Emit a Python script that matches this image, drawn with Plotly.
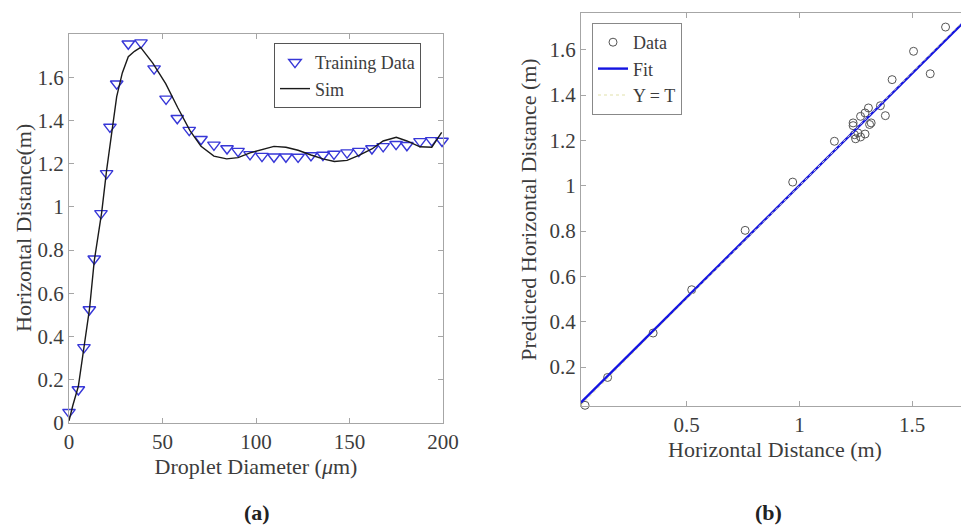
import numpy as np
import plotly.graph_objects as go

# ---------------- data: panel (a) ----------------
train_x = [0, 5, 8, 10.9, 13.5, 17.1, 20.1, 21.9, 25.5, 31.7, 38.5, 45.5, 51.9, 57.9, 64.3,
           70.6, 77.5, 84.5, 90.4, 96.8, 103.2, 109.6, 116, 122.5, 129.4, 135.8, 141.7,
           148.7, 155, 162, 168, 174.9, 180.7, 187.7, 194, 199.5]
train_y = [0.05, 0.155, 0.35, 0.525, 0.76, 0.97, 1.155, 1.37, 1.57, 1.755, 1.76, 1.64, 1.50,
           1.41, 1.355, 1.313, 1.287, 1.27, 1.258, 1.243, 1.235, 1.232, 1.232, 1.231, 1.238,
           1.24, 1.245, 1.251, 1.258, 1.27, 1.28, 1.29, 1.285, 1.303, 1.308, 1.305]

sim_x = [0, 2, 5, 8, 11, 13.5, 17.5, 20.1, 23.7, 25.5, 28.5, 31.7, 35, 38.3, 44.8, 51.7, 58.1,
         64.7, 70.6, 77.5, 84.3, 90.4, 96.8, 103.9, 109.6, 116, 122.5, 129.4, 135.8, 141.9,
         148.7, 155, 162, 168, 175, 180.7, 187.7, 194, 199.3]
sim_y = [0.01, 0.08, 0.17, 0.35, 0.53, 0.75, 0.976, 1.169, 1.40, 1.51, 1.62, 1.695, 1.72, 1.738,
         1.665, 1.57, 1.46, 1.353, 1.28, 1.235, 1.222, 1.228, 1.25, 1.268, 1.28, 1.276, 1.262,
         1.24, 1.222, 1.21, 1.215, 1.238, 1.268, 1.305, 1.322, 1.305, 1.278, 1.276, 1.345]

a_xticks = [0, 50, 100, 150, 200]
a_yticks = [0, 0.2, 0.4, 0.6, 0.8, 1, 1.2, 1.4, 1.6]
a_ytext = ["0", "0.2", "0.4", "0.6", "0.8", "1", "1.2", "1.4", "1.6"]

# ---------------- data: panel (b) ----------------
data_t = [0.049, 0.149, 0.351, 0.522, 0.759, 0.970, 1.155, 1.238, 1.238, 1.244, 1.249, 1.259,
          1.271, 1.271, 1.291, 1.291, 1.306, 1.311, 1.318, 1.359, 1.381, 1.411, 1.506, 1.58,
          1.648, 1.745]
data_y = [0.031, 0.154, 0.35, 0.541, 0.803, 1.016, 1.196, 1.277, 1.265, 1.225, 1.207, 1.233,
          1.215, 1.306, 1.321, 1.228, 1.343, 1.27, 1.277, 1.353, 1.309, 1.468, 1.593, 1.494,
          1.70, 1.69]

b_xrange = [0.031, 1.752]
b_yrange = [0.028, 1.762]
b_xticks = [0.5, 1, 1.5]
b_xtext = ["0.5", "1", "1.5"]
b_yticks = [0.2, 0.4, 0.6, 0.8, 1, 1.2, 1.4, 1.6]
b_ytext = ["0.2", "0.4", "0.6", "0.8", "1", "1.2", "1.4", "1.6"]

slope, intercept = np.polyfit(data_t, data_y, 1)
line_t = np.array(b_xrange)
fit_y = slope * line_t + intercept

# ---------------- figure ----------------
W, H = 969, 525
OFF = 8  # page body margin of the browser
FONT = "Liberation Serif, Times New Roman, serif"
TXT = "#3c3c3c"
AX = "#a6a6a6"

def px(x):
    return (x - OFF) / W

def py(y):
    return 1 - (y - OFF) / H

fig = go.Figure()

fig.add_trace(go.Scatter(
    x=train_x, y=train_y, mode="markers", name="Training Data",
    marker=dict(symbol="triangle-down-open", size=11, color="rgb(55,55,215)",
                line=dict(width=1.4, color="rgb(55,55,215)")),
    xaxis="x", yaxis="y", legend="legend", cliponaxis=False))
fig.add_trace(go.Scatter(
    x=sim_x, y=sim_y, mode="lines", name="Sim",
    line=dict(color="#1a1a1a", width=1.4),
    xaxis="x", yaxis="y", legend="legend"))

fig.add_trace(go.Scatter(
    x=data_t, y=data_y, mode="markers", name="Data",
    marker=dict(symbol="circle-open", size=8, color="#555555", line=dict(width=1)),
    xaxis="x2", yaxis="y2", legend="legend2", cliponaxis=False))
fig.add_trace(go.Scatter(
    x=line_t, y=fit_y, mode="lines", name="Fit",
    line=dict(color="rgb(20,20,225)", width=2.4),
    xaxis="x2", yaxis="y2", legend="legend2"))
fig.add_trace(go.Scatter(
    x=line_t, y=line_t, mode="lines", name="Y = T",
    line=dict(color="rgb(225,225,170)", width=1, dash="dot"),
    xaxis="x2", yaxis="y2", legend="legend2"))

axis_common = dict(showgrid=False, zeroline=False, showline=True, linecolor=AX, linewidth=1,
                   mirror="ticks", ticks="inside", ticklen=5, tickcolor=AX, tickwidth=1,
                   automargin=False,
                   tickfont=dict(family=FONT, size=21, color=TXT))

fig.update_layout(
    width=W, height=H, margin=dict(l=0, r=0, t=0, b=0, autoexpand=False),
    paper_bgcolor="white", plot_bgcolor="white",
    font=dict(family=FONT, color=TXT),
    xaxis=dict(domain=[px(69), px(443)], range=[0, 200], tickvals=a_xticks, anchor="y",
               title=dict(text="Droplet Diameter (<i>μ</i>m)", font=dict(size=22, family=FONT, color=TXT), standoff=4),
               **axis_common),
    yaxis=dict(domain=[py(423), py(34)], range=[0, 1.8], tickvals=a_yticks, ticktext=a_ytext,
               anchor="x", **axis_common),
    xaxis2=dict(domain=[px(581), px(969)], range=b_xrange, tickvals=b_xticks, ticktext=b_xtext,
                anchor="y2",
                title=dict(text="Horizontal Distance (m)", font=dict(size=22, family=FONT, color=TXT), standoff=4),
                **axis_common),
    yaxis2=dict(domain=[py(406), py(13)], range=b_yrange, tickvals=b_yticks, ticktext=b_ytext,
                anchor="x2",
                title=dict(text="Predicted Horizontal Distance (m)", font=dict(size=22, family=FONT, color=TXT), standoff=6),
                **axis_common),
    legend=dict(x=px(274), y=py(43), xanchor="left", yanchor="top", bgcolor="white",
                bordercolor="#555555", borderwidth=1, tracegroupgap=0,
                font=dict(family=FONT, size=18, color=TXT)),
    legend2=dict(x=px(592), y=py(23), xanchor="left", yanchor="top", bgcolor="white",
                 bordercolor="#888888", borderwidth=1, tracegroupgap=0,
                 font=dict(family=FONT, size=18, color=TXT)),
    showlegend=True,
)

# y-axis title of panel (a), placed precisely
fig.add_annotation(text="Horizontal Distance(m)", textangle=-90, x=px(23), y=py(228),
                   xanchor="center", yanchor="middle",
                   xref="paper", yref="paper", showarrow=False,
                   font=dict(family=FONT, size=22, color=TXT))

fig.add_annotation(text="<b>(a)</b>", x=px(257), y=py(512), xref="paper", yref="paper",
                   xanchor="center", yanchor="middle",
                   showarrow=False, font=dict(family=FONT, size=22, color="#222222"))
fig.add_annotation(text="<b>(b)</b>", x=px(768), y=py(512), xref="paper", yref="paper",
                   xanchor="center", yanchor="middle",
                   showarrow=False, font=dict(family=FONT, size=22, color="#222222"))

fig.write_html("out.html")
